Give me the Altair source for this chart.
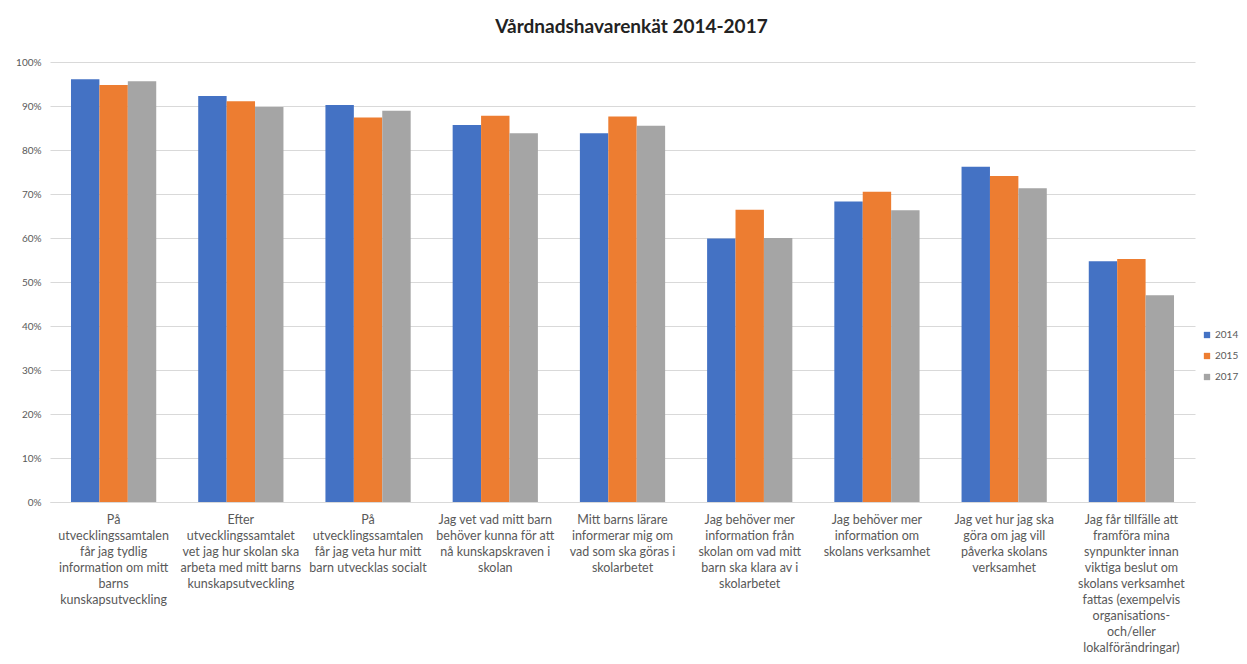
import altair as alt
import pandas as pd

TITLE = "Vårdnadshavarenkät 2014-2017"

CATEGORY_LINES = [
    ["På", "utvecklingssamtalen", "får jag tydlig", "information om mitt", "barns", "kunskapsutveckling"],
    ["Efter", "utvecklingssamtalet", "vet jag hur skolan ska", "arbeta med mitt barns", "kunskapsutveckling"],
    ["På", "utvecklingssamtalen", "får jag veta hur mitt", "barn utvecklas socialt"],
    ["Jag vet vad mitt barn", "behöver kunna för att", "nå kunskapskraven i", "skolan"],
    ["Mitt barns lärare", "informerar mig om", "vad som ska göras i", "skolarbetet"],
    ["Jag behöver mer", "information från", "skolan om vad mitt", "barn ska klara av i", "skolarbetet"],
    ["Jag behöver mer", "information om", "skolans verksamhet"],
    ["Jag vet hur jag ska", "göra om jag vill", "påverka skolans", "verksamhet"],
    ["Jag får tillfälle att", "framföra mina", "synpunkter innan", "viktiga beslut om", "skolans verksamhet", "fattas (exempelvis", "organisations-", "och/eller", "lokalförändringar)"],
]
CATEGORIES = ["|".join(lines) for lines in CATEGORY_LINES]

YEARS = ["2014", "2015", "2017"]
VALUES_2014 = [96.1, 92.3, 90.2, 85.7, 83.8, 59.9, 68.3, 76.2, 54.7]
VALUES_2015 = [94.8, 91.1, 87.4, 87.8, 87.6, 66.4, 70.5, 74.1, 55.2]
VALUES_2017 = [95.6, 89.8, 88.9, 83.8, 85.5, 60.0, 66.3, 71.3, 47.0]
COLORS = ["#4472C4", "#ED7D31", "#A5A5A5"]

rows = []
for year, vals in zip(YEARS, [VALUES_2014, VALUES_2015, VALUES_2017]):
    for cat, v in zip(CATEGORIES, vals):
        rows.append({"kategori": cat, "år": year, "andel": v / 100})
df = pd.DataFrame(rows)

chart = (
    alt.Chart(df)
    .mark_bar()
    .encode(
        x=alt.X(
            "kategori:N",
            sort=CATEGORIES,
            scale=alt.Scale(paddingInner=0.33, paddingOuter=0.165),
            axis=alt.Axis(
                title=None,
                labelAngle=0,
                labelExpr="split(datum.label, '|')",
                labelBaseline="top",
                labelAlign="center",
                labelFont="Lato",
                labelFontSize=12.5,
                labelColor="#595959",
                labelLineHeight=16,
                labelPadding=11,
                labelLimit=0,
                ticks=False,
                domainColor="#d9d9d9",
                grid=False,
            ),
        ),
        xOffset=alt.XOffset("år:N", sort=YEARS, scale=alt.Scale(paddingInner=0, paddingOuter=0)),
        y=alt.Y(
            "andel:Q",
            scale=alt.Scale(domain=[0, 1]),
            axis=alt.Axis(
                title=None,
                format=".0%",
                values=[i / 10 for i in range(11)],
                labelFont="Lato",
                labelFontSize=10,
                labelColor="#595959",
                labelPadding=9,
                ticks=False,
                domain=False,
                gridColor="#d9d9d9",
                gridWidth=1,
            ),
        ),
        color=alt.Color(
            "år:N",
            sort=YEARS,
            scale=alt.Scale(domain=YEARS, range=COLORS),
            legend=alt.Legend(
                title=None,
                orient="none",
                legendX=1152,
                legendY=268,
                symbolType="square",
                symbolSize=40,
                symbolStrokeWidth=0,
                labelFont="Lato",
                labelFontSize=10,
                labelColor="#595959",
                rowPadding=11,
                labelOffset=3,
            ),
        ),
    )
    .properties(
        width=1145,
        height=440,
        title=alt.TitleParams(
            TITLE,
            font="Lato",
            fontSize=19,
            fontWeight="bold",
            color="#222222",
            anchor="middle",
            dx=9,
            offset=20,
        ),
        autosize=alt.AutoSizeParams(type="none"),
        padding={"left": 42, "top": 54, "right": 44, "bottom": 154},
        background="white",
    )
    .configure_view(stroke=None)
)

chart.save("out.html", embed_options={"renderer": "svg", "actions": False})
